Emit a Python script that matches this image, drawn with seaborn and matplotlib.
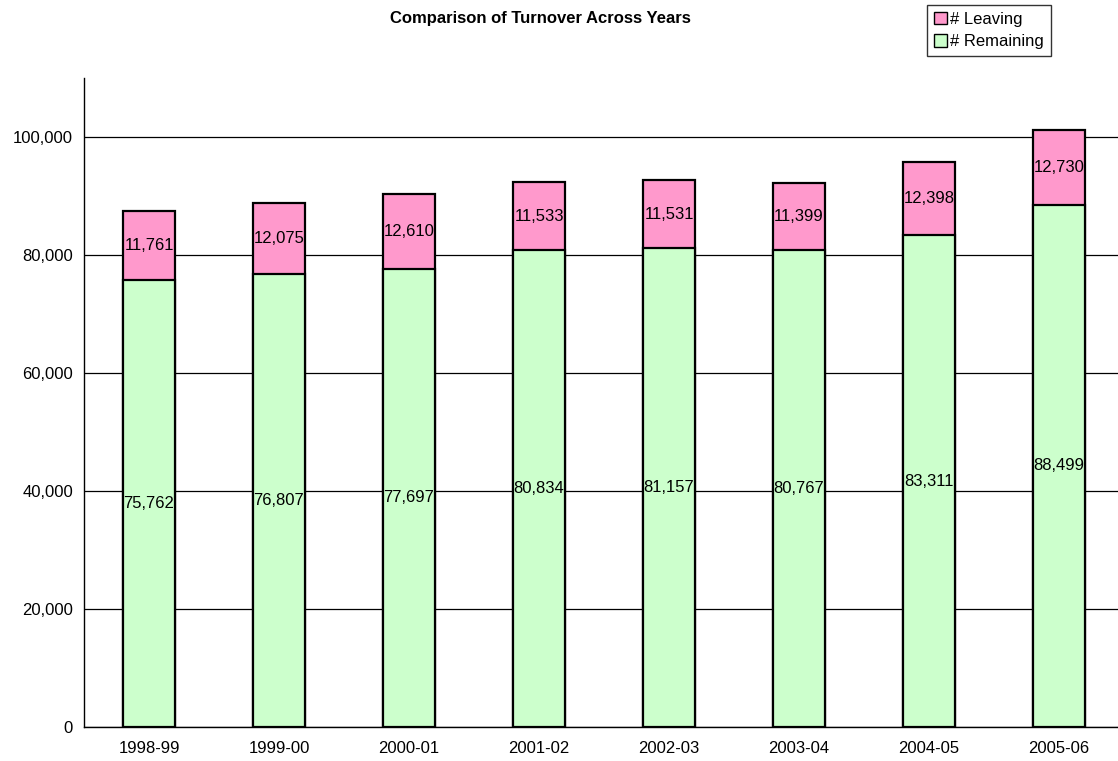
import matplotlib
matplotlib.use("Agg")
import matplotlib.pyplot as plt
import seaborn as sns
import pandas as pd
from matplotlib.patches import Patch
from matplotlib.ticker import FuncFormatter, MultipleLocator

years = ["1998-99", "1999-00", "2000-01", "2001-02", "2002-03", "2003-04", "2004-05", "2005-06"]
remaining = [75762, 76807, 77697, 80834, 81157, 80767, 83311, 88499]
leaving = [11761, 12075, 12610, 11533, 11531, 11399, 12398, 12730]

df = pd.DataFrame({"Year": years, "Remaining": remaining, "Leaving": leaving})
df["Total"] = df["Remaining"] + df["Leaving"]

sns.set_style("white")
plt.rcParams["font.family"] = ["Liberation Sans", "DejaVu Sans"]
plt.rcParams["text.color"] = "black"
plt.rcParams["xtick.color"] = "black"
plt.rcParams["ytick.color"] = "black"

fs = 12

fig = plt.figure(figsize=(11.18, 7.61), dpi=100)
ax = fig.add_axes([84 / 1118, 1 - 727 / 761, 1040 / 1118, 649 / 761])

pink = "#FF99CC"
green = "#CCFFCC"

sns.barplot(data=df, x="Year", y="Total", color=pink, width=0.4,
            edgecolor="black", linewidth=1.6, saturation=1, ax=ax, zorder=3)
sns.barplot(data=df, x="Year", y="Remaining", color=green, width=0.4,
            edgecolor="black", linewidth=1.6, saturation=1, ax=ax, zorder=3)

n = len(years)
pink_bars = ax.containers[0]
green_bars = ax.containers[1]
for bar, lv in zip(pink_bars, leaving):
    h = bar.get_height()
    ax.text(bar.get_x() + bar.get_width() / 2, h - lv / 2, f"{lv:,}",
            ha="center", va="center", fontsize=fs, color="black", zorder=4)
ax.bar_label(green_bars, labels=[f"{v:,}" for v in remaining],
             label_type="center", fontsize=fs, color="black", zorder=4)

ax.set_xlim(-0.5, n - 0.5)
ax.set_ylim(0, 110000)
ax.yaxis.set_major_locator(MultipleLocator(20000))
ax.yaxis.set_major_formatter(FuncFormatter(lambda v, p: f"{int(v):,}"))
ax.grid(axis="y", color="black", linewidth=0.9, zorder=0)
ax.set_axisbelow(True)

ax.set_xticks(range(n))
ax.set_xticklabels(years)
ax.set_xticks([i - 0.5 for i in range(n + 1)], minor=True)
ax.tick_params(axis="x", which="major", length=0, pad=10, labelsize=fs, labelcolor="black")
ax.tick_params(axis="x", which="minor", length=5, width=1, color="black", direction="out")
ax.tick_params(axis="y", length=5, width=1, color="black", direction="out",
               labelsize=fs, labelcolor="black", pad=3)
ax.set_xlabel("")
ax.set_ylabel("")

for side in ["top", "right"]:
    ax.spines[side].set_visible(False)
for side in ["left", "bottom"]:
    ax.spines[side].set_color("black")
    ax.spines[side].set_linewidth(1)

fig.text(540 / 1118, 1 - 19 / 761, "Comparison of Turnover Across Years",
         ha="center", va="center", fontsize=fs, fontweight="bold", color="black")

handles = [Patch(facecolor=pink, edgecolor="black", label="# Leaving"),
           Patch(facecolor=green, edgecolor="black", label="# Remaining")]
leg = fig.legend(handles=handles, loc="upper left",
                 bbox_to_anchor=(927 / 1118, 1 - 5 / 761), frameon=True,
                 fancybox=False, fontsize=fs, handlelength=0.8, handleheight=0.8,
                 handletextpad=0.2, borderpad=0.4, labelspacing=0.45, borderaxespad=0)
leg.get_frame().set_edgecolor("black")
leg.get_frame().set_linewidth(1)
for t in leg.get_texts():
    t.set_color("black")

fig.savefig("out.png", dpi=100)
